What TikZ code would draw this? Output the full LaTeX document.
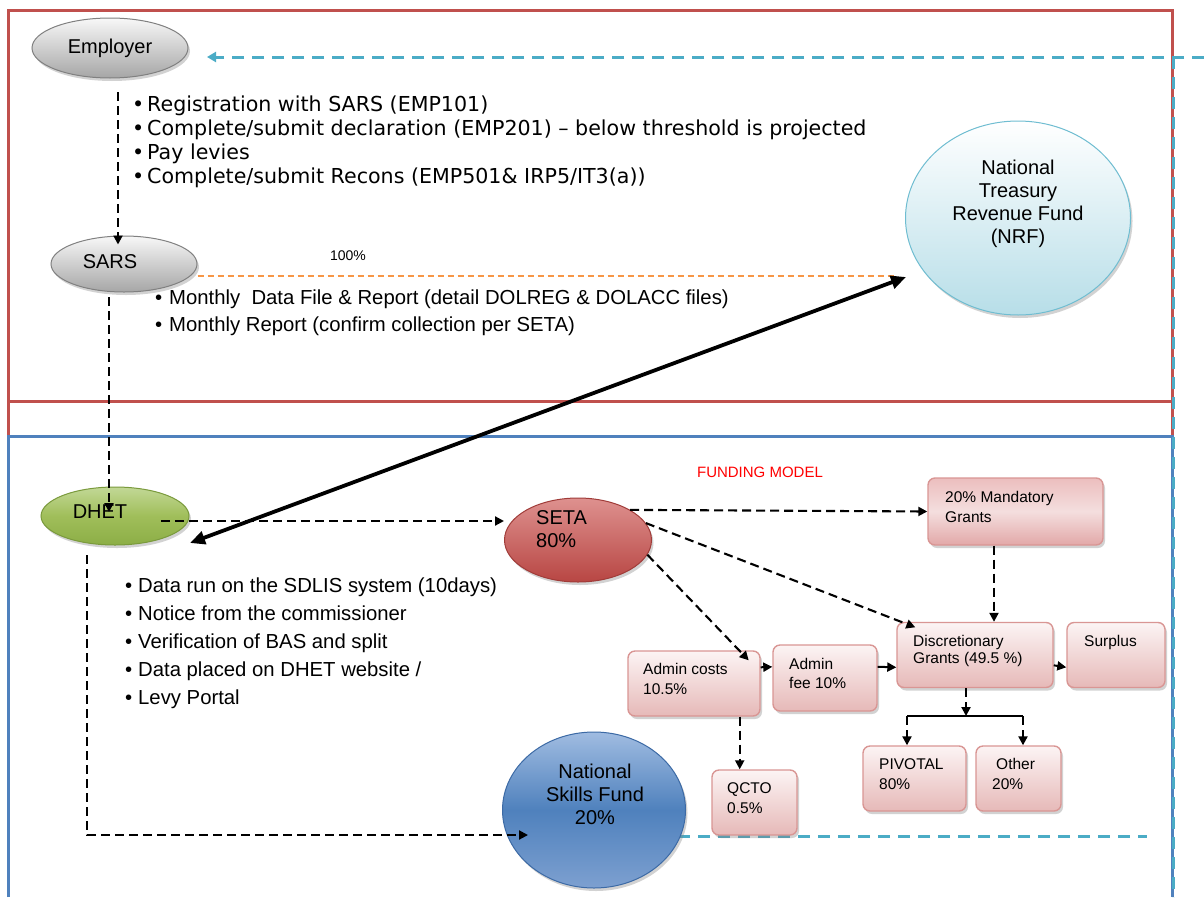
\documentclass[tikz,border=0pt]{standalone}
\usepackage{fontspec}
\setmainfont{Liberation Sans}
\newfontfamily\verdfont{DejaVu Sans}
\usetikzlibrary{shapes.geometric,arrows.meta,shadows,calc}
\definecolor{frameRed}{HTML}{C0504D}
\definecolor{frameBlue}{HTML}{4F81BD}
\definecolor{cyanLine}{HTML}{4BACC6}
\definecolor{orangeLine}{HTML}{F79646}
\definecolor{boxBorder}{HTML}{D99694}
\definecolor{boxTop}{HTML}{FCF4F4}
\definecolor{boxBot}{HTML}{E6B9B8}
\newcommand{\bulletbox}[1]{\makebox[#1][l]{•}}
\begin{document}
\begin{tikzpicture}[x=1pt,y=-1pt,
  bigtxt/.style={font=\fontsize{20}{23}\selectfont, inner sep=0pt},
  boxtxt/.style={font=\fontsize{15.5}{20}\selectfont, inner sep=0pt, align=left, anchor=north west},
  shade/.style={drop shadow={shadow xshift=2pt,shadow yshift=-3pt,opacity=0.35}},
  grayell/.style={ellipse, draw=black!50, line width=1pt, top color=black!3, bottom color=black!35, shade, inner sep=0pt},
  pinkbox/.style={rectangle, rounded corners=7pt, draw=boxBorder, line width=1.4pt, top color=boxTop, bottom color=boxBot, shade, inner sep=0pt},
  blkdash/.style={draw=black, line width=2.1pt, dash pattern=on 9pt off 5pt},
  tip/.style={-{Triangle[length=9pt,width=9pt]}},
  cyandash/.style={draw=cyanLine, line width=3pt, dash pattern=on 12pt off 8pt},
  solidarr/.style={draw=black, line width=2pt, -{Triangle[length=9pt,width=9pt]}}
]
\useasboundingbox[fill=white] (0,0) rectangle (1204,897);

% frames
\draw[frameRed, line width=3pt] (8,10) rectangle (1172,401);
\draw[frameRed, line width=3pt] (8,401) -- (8,436) (1172,401) -- (1172,436);
\draw[frameBlue, line width=3pt] (8,897) -- (8,436) -- (1172,436) -- (1172,897);

% cyan dashed return lines
\coordinate (cyR) at (1204,57);
\coordinate (cyIn) at (207,57);
\coordinate (cyTop) at (1173,57);
\coordinate (cyBot) at (1173,897);
\coordinate (cyEnd) at (1147,836);
\draw[cyandash] (cyTop) -- (cyBot);
\draw[cyandash, -{Triangle[length=9pt,width=10pt]}] (cyR) -- (cyIn);

% ellipses
\node[grayell, minimum width=156pt, minimum height=60pt, bigtxt] (emp) at (110,48) {Employer};
\node[grayell, minimum width=146pt, minimum height=56pt] (sars) at (124,264) {};
\node[bigtxt] (sarsT) at (110,262) {SARS};

\node[ellipse, draw=cyanLine!80, line width=1pt, top color=white, bottom color={rgb,255:red,183;green,222;blue,232}, shade, minimum width=225pt, minimum height=194pt, inner sep=0pt] (nrf) at (1018,218) {};
\node[bigtxt, align=center, anchor=north] (nrfT) at (1018,159.6) {National\\Treasury\\Revenue Fund\\(NRF)};

\node[ellipse, draw={rgb,255:red,122;green,154;blue,60}, line width=1pt, top color={rgb,255:red,194;green,216;blue,150}, bottom color={rgb,255:red,140;green,174;blue,70}, middle color={rgb,255:red,160;green,190;blue,90}, shade, minimum width=148pt, minimum height=58pt, inner sep=0pt] (dhet) at (115,516) {};
\node[bigtxt] (dhetT) at (100,512) {DHET};

\node[ellipse, draw={rgb,255:red,160;green,60;blue,57}, line width=1pt, top color={rgb,255:red,222;green,145;blue,143}, bottom color={rgb,255:red,184;green,70;blue,67}, shade, minimum width=147pt, minimum height=84pt, inner sep=0pt] (seta) at (578,540) {};
\node[bigtxt, align=left, anchor=north west] (setaT) at (536,510.6) {SETA\\80\%};

% bottom cyan line (behind NSF and boxes)
\coordinate (nsfOut) at (678,836);
\draw[cyandash] (nsfOut) -- (cyEnd);

\node[ellipse, draw={rgb,255:red,60;green,106;blue,165}, line width=1pt, top color={rgb,255:red,160;green,188;blue,225}, bottom color={rgb,255:red,125;green,160;blue,208}, middle color=frameBlue, shade, minimum width=183pt, minimum height=156pt, inner sep=0pt] (nsf) at (594,810) {};
\node[bigtxt, align=center, anchor=north] (nsfT) at (595,763.6) {National\\Skills Fund\\20\%};

% boxes
\node[pinkbox, top color={rgb,255:red,236;green,190;blue,190}, bottom color={rgb,255:red,226;green,168;blue,168}, middle color={rgb,255:red,244;green,222;blue,222}, minimum width=175pt, minimum height=67pt] (mand) at (1015.5,511.5) {};
\node[pinkbox, minimum width=156pt, minimum height=65pt] (disc) at (975,655) {};
\node[pinkbox, minimum width=98pt, minimum height=65pt] (surp) at (1116,655) {};
\node[pinkbox, minimum width=132pt, minimum height=65pt] (ac) at (694,683.5) {};
\node[pinkbox, minimum width=104pt, minimum height=66pt] (fee) at (825,678) {};
\node[pinkbox, minimum width=85pt, minimum height=65pt] (qcto) at (754.5,802.5) {};
\node[pinkbox, minimum width=103pt, minimum height=65pt] (piv) at (914.5,778.5) {};
\node[pinkbox, minimum width=85pt, minimum height=65pt] (oth) at (1018.5,778.5) {};

\node[boxtxt] (mandT) at (945,491.2) {20\% Mandatory\\Grants};
\node[boxtxt, font=\fontsize{15.5}{17}\selectfont] (discT) at (913,635.2) {Discretionary\\Grants (49.5 \%)};
\node[boxtxt] (surpT) at (1084,635.2) {Surplus};
\node[boxtxt] (acT) at (643,663.2) {Admin costs\\10.5\%};
\node[boxtxt, font=\fontsize{15.5}{19}\selectfont] (feeT) at (789,658.2) {Admin\\fee 10\%};
\node[boxtxt] (qctoT) at (727,782.2) {QCTO\\0.5\%};
\node[boxtxt] (pivT) at (879,758.2) {PIVOTAL\\80\%};
\node[boxtxt] (othT) at (992,758.2) {\hspace*{4pt}Other\\20\%};

% labels
\node[font=\fontsize{14}{14}\selectfont, inner sep=0pt] (pct) at (348,256) {100\%};
\node[font=\fontsize{15}{15}\selectfont, text=red, inner sep=0pt] (fm) at (760,472) {FUNDING MODEL};

% bullet lists
\node[inner sep=0pt, align=left, anchor=north west, font=\verdfont\fontsize{20.6}{24}\selectfont] (empList) at (132,95.9)
 {\bulletbox{15pt}Registration with SARS (EMP101)\\
  \bulletbox{15pt}Complete/submit declaration (EMP201) – below threshold is projected\\
  \bulletbox{15pt}Pay levies\\
  \bulletbox{15pt}Complete/submit Recons (EMP501\& IRP5/IT3(a))};
\node[inner sep=0pt, align=left, anchor=north west, font=\fontsize{20.3}{26.7}\selectfont] (sarsList) at (155,289.6)
 {\bulletbox{14pt}Monthly\ \ Data File \& Report (detail DOLREG \& DOLACC files)\\
  \bulletbox{14pt}Monthly Report (confirm collection per SETA)};
\node[inner sep=0pt, align=left, anchor=north west, font=\fontsize{20.3}{28}\selectfont] (dhetList) at (125,577.6)
 {\bulletbox{13pt}Data run on the SDLIS system (10days)\\
  \bulletbox{13pt}Notice from the commissioner\\
  \bulletbox{13pt}Verification of BAS and split\\
  \bulletbox{13pt}Data placed on DHET website /\\
  \bulletbox{13pt}Levy Portal};

% orange 100% line
\coordinate (nrfOrange) at (897,276);
\draw[orangeLine, line width=1.4pt, dash pattern=on 6pt off 4pt] ($(sars.east)+(0,12)$) -- (nrfOrange);

% flow connectors
\coordinate (empD) at (118,92);
\draw[blkdash, tip] (empD) -- ($(sars.north)+(-6,9)$);
\coordinate (sarsD) at (109,297);
\draw[blkdash, tip] (sarsD) -- (sarsD |- dhetT);
\coordinate (dhetR) at (161,521);
\draw[blkdash, tip] (dhetR) -- (dhetR -| seta.west);
\coordinate (dhetD) at (87,555);
\coordinate (nsfIn) at (528,835);
\draw[blkdash, tip] (dhetD) |- (nsfIn);

% NRF <-> DHET
\coordinate (dhetIn) at (190,543);
\coordinate (nrfIn) at (906,277);
\draw[black, line width=3.8pt, {Triangle[length=15pt,width=13pt]}-{Triangle[length=15pt,width=13pt]}] (dhetIn) -- (nrfIn);

% funding model connectors
\draw[blkdash, tip] (seta.30) -- (mand.west);
\draw[blkdash, tip] (seta.14) -- ($(disc.north west)+(19,5.5)$);
\draw[blkdash, tip] (seta.-12) -- ($(ac.north east)+(-12,10)$);
\coordinate (mandS) at ($(mand.south)+(-21.5,0)$);
\draw[blkdash, tip] (mandS) -- (mandS |- disc.north);
\coordinate (acS) at ($(ac.south east)+(-21,0)$);
\draw[blkdash, tip] (acS) -- (acS |- qcto.north);
\draw[solidarr] ($(ac.north east)+(0,17)$) -- ($(fee.north west)+(0,22.5)$);
\draw[solidarr] ($(fee.north east)+(0,22.5)$) -- ($(disc.north west)+(0,45.5)$);
\draw[solidarr] ($(disc.north east)+(0,43.5)$) -- ($(surp.north west)+(0,45.5)$);
\coordinate (split) at (966,716);
\coordinate (splitL) at (907,716);
\coordinate (splitR) at (1023,716);
\draw[blkdash, tip] ($(disc.south)+(-9,0)$) -- (split);
\draw[black, line width=2.4pt] (splitL) -- (splitR);
\draw[blkdash, tip] (splitL) -- (splitL |- piv.north);
\draw[blkdash, tip] (splitR) -- (splitR |- oth.north);
\end{tikzpicture}
\end{document}
